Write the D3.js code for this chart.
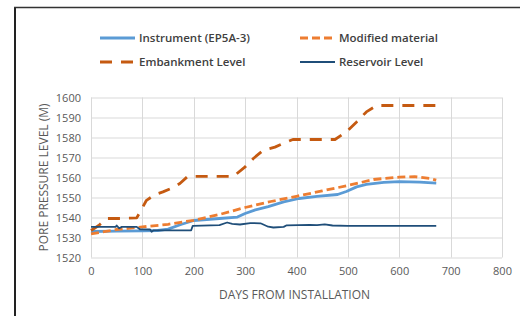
<!DOCTYPE html>
<html>
<head>
<meta charset="utf-8">
<script src="https://d3js.org/d3.v7.min.js"></script>
<style>
  html, body { margin: 0; padding: 0; background: #fff; }
  text { font-family: "Open Sans", "Liberation Sans", sans-serif; }
</style>
</head>
<body>
<svg width="520" height="316"></svg>
<script>
// series: day, level (m)
var instrumentDays = [0, 50, 100, 130, 150, 175, 200, 250, 285, 300, 320, 345, 375, 405, 440, 480, 497, 517, 536, 570, 600, 640, 672];
var instrumentVals = [1533, 1533.2, 1533.3, 1533.5, 1534.2, 1536.5, 1538.5, 1539.5, 1540.2, 1542, 1543.8, 1545.4, 1547.8, 1549.5, 1550.6, 1551.5, 1553, 1555.3, 1556.6, 1557.6, 1557.9, 1557.7, 1557.2];

var modifiedDays = [0, 50, 100, 150, 200, 250, 300, 350, 400, 450, 500, 550, 600, 630, 660, 672];
var modifiedVals = [1531.8, 1534, 1535.3, 1536.6, 1538.6, 1541.5, 1545, 1548, 1550.6, 1553.3, 1556, 1559, 1560.2, 1560.4, 1559.5, 1558.7];

var embankDays = [0, 15, 31, 60, 89, 108, 125, 140, 160, 173, 188, 230, 277, 300, 316, 335, 358, 374, 393, 430, 475, 497, 517, 536, 556, 600, 675];
var embankVals = [1533.5, 1536, 1539.5, 1539.5, 1539.8, 1548.6, 1551.5, 1552.8, 1555, 1557, 1560.5, 1560.6, 1560.5, 1565.3, 1569.5, 1573.6, 1575.2, 1577, 1579, 1579, 1579, 1582.8, 1587.8, 1592.8, 1596, 1596, 1596];

var reservoirDays = [0, 48, 50, 55, 60, 89, 95, 115, 118, 122, 195, 198, 250, 265, 275, 290, 310, 330, 345, 355, 375, 381, 426, 440, 455, 470, 500, 672];
var reservoirVals = [1535.3, 1535.3, 1536, 1534.6, 1535.3, 1535.3, 1534.1, 1534, 1532.9, 1533.6, 1533.6, 1535.8, 1536.2, 1537.5, 1536.8, 1536.5, 1537.2, 1537.1, 1535.4, 1535, 1535.3, 1536.1, 1536.3, 1536.2, 1536.6, 1536, 1535.8, 1535.8];

var xTicks = [0, 100, 200, 300, 400, 500, 600, 700, 800];
var yTicks = [1520, 1530, 1540, 1550, 1560, 1570, 1580, 1590, 1600];

var series = [
  {name: "Instrument (EP5A-3)", days: instrumentDays, vals: instrumentVals, color: "#5b9bd5", width: 2.8, dash: null},
  {name: "Modified material", days: modifiedDays, vals: modifiedVals, color: "#ed7d31", width: 2.8, dash: "8,4"},
  {name: "Embankment Level", days: embankDays, vals: embankVals, color: "#c55a11", width: 2.8, dash: "12,9"},
  {name: "Reservoir Level", days: reservoirDays, vals: reservoirVals, color: "#1f4e79", width: 1.8, dash: null}
];

var svg = d3.select("svg");
var margin = {left: 91, top: 97.5, right: 18, bottom: 58.5};
var width = 520 - margin.left - margin.right,
    height = 316 - margin.top - margin.bottom;

// outer frame (left + top edges visible)
svg.append("line").attr("x1", 15).attr("x2", 15).attr("y1", 7).attr("y2", 316)
  .attr("stroke", "#222").attr("stroke-width", 2);
svg.append("line").attr("x1", 14).attr("x2", 520).attr("y1", 7.5).attr("y2", 7.5)
  .attr("stroke", "#333").attr("stroke-width", 1.5);

var x = d3.scaleLinear().domain([0, 800]).range([0, width]);
var y = d3.scaleLinear().domain([1520, 1600]).range([height, 0]);

var g = svg.append("g").attr("transform", "translate(" + margin.left + "," + margin.top + ")");

// gridlines
g.append("g").selectAll("line").data(xTicks).enter().append("line")
  .attr("x1", function(d) { return Math.round(x(d)) + 0.5; })
  .attr("x2", function(d) { return Math.round(x(d)) + 0.5; })
  .attr("y1", 0).attr("y2", height)
  .attr("stroke", "#d9d9d9").attr("stroke-width", 1);
g.append("g").selectAll("line").data(yTicks).enter().append("line")
  .attr("x1", 0).attr("x2", width)
  .attr("y1", function(d) { return Math.round(y(d)) + 0.5; })
  .attr("y2", function(d) { return Math.round(y(d)) + 0.5; })
  .attr("stroke", "#d9d9d9").attr("stroke-width", 1);

// axes (labels only, Excel style)
var xAxis = g.append("g").attr("transform", "translate(0," + height + ")")
  .call(d3.axisBottom(x).tickValues(xTicks).tickSize(0).tickPadding(10).tickFormat(d3.format("d")));
var yAxis = g.append("g")
  .call(d3.axisLeft(y).tickValues(yTicks).tickSize(0).tickPadding(10).tickFormat(d3.format("d")));
[xAxis, yAxis].forEach(function(a) {
  a.select(".domain").remove();
  a.selectAll("text").attr("fill", "#595959").attr("font-size", 11)
    .style("font-family", "'Open Sans', 'Liberation Sans', sans-serif");
});

// lines
var line = d3.line()
  .x(function(d) { return x(d[0]); })
  .y(function(d) { return y(d[1]); });

series.forEach(function(s) {
  var pts = s.days.map(function(d, i) { return [d, s.vals[i]]; });
  g.append("path").datum(pts)
    .attr("fill", "none")
    .attr("stroke", s.color)
    .attr("stroke-width", s.width)
    .attr("stroke-dasharray", s.dash)
    .attr("stroke-linejoin", "round")
    .attr("d", line);
});

// axis titles
svg.append("text")
  .attr("x", margin.left + width / 2 - 2).attr("y", 299)
  .attr("text-anchor", "middle").attr("fill", "#595959").attr("font-size", 12)
  .text("DAYS FROM INSTALLATION");
svg.append("text")
  .attr("transform", "translate(48," + (margin.top + height / 2) + ") rotate(-90)")
  .attr("text-anchor", "middle").attr("fill", "#595959").attr("font-size", 12)
  .text("PORE PRESSURE LEVEL (M)");

// legend
var legendPos = [[100, 38], [300, 38], [100, 62], [300, 62]];
var legend = svg.append("g").selectAll("g").data(series).enter().append("g")
  .attr("transform", function(d, i) { return "translate(" + legendPos[i][0] + "," + legendPos[i][1] + ")"; });
legend.append("line")
  .attr("x1", 0).attr("x2", 35).attr("y1", 0).attr("y2", 0)
  .attr("stroke", function(d) { return d.color; })
  .attr("stroke-width", function(d) { return d.width; })
  .attr("stroke-dasharray", function(d) { return d.dash; });
legend.append("text")
  .attr("x", 39).attr("y", 0).attr("dy", "0.35em")
  .attr("fill", "#404040").attr("font-size", 11.5).attr("font-weight", 600)
  .text(function(d) { return d.name; });
</script>
</body>
</html>
